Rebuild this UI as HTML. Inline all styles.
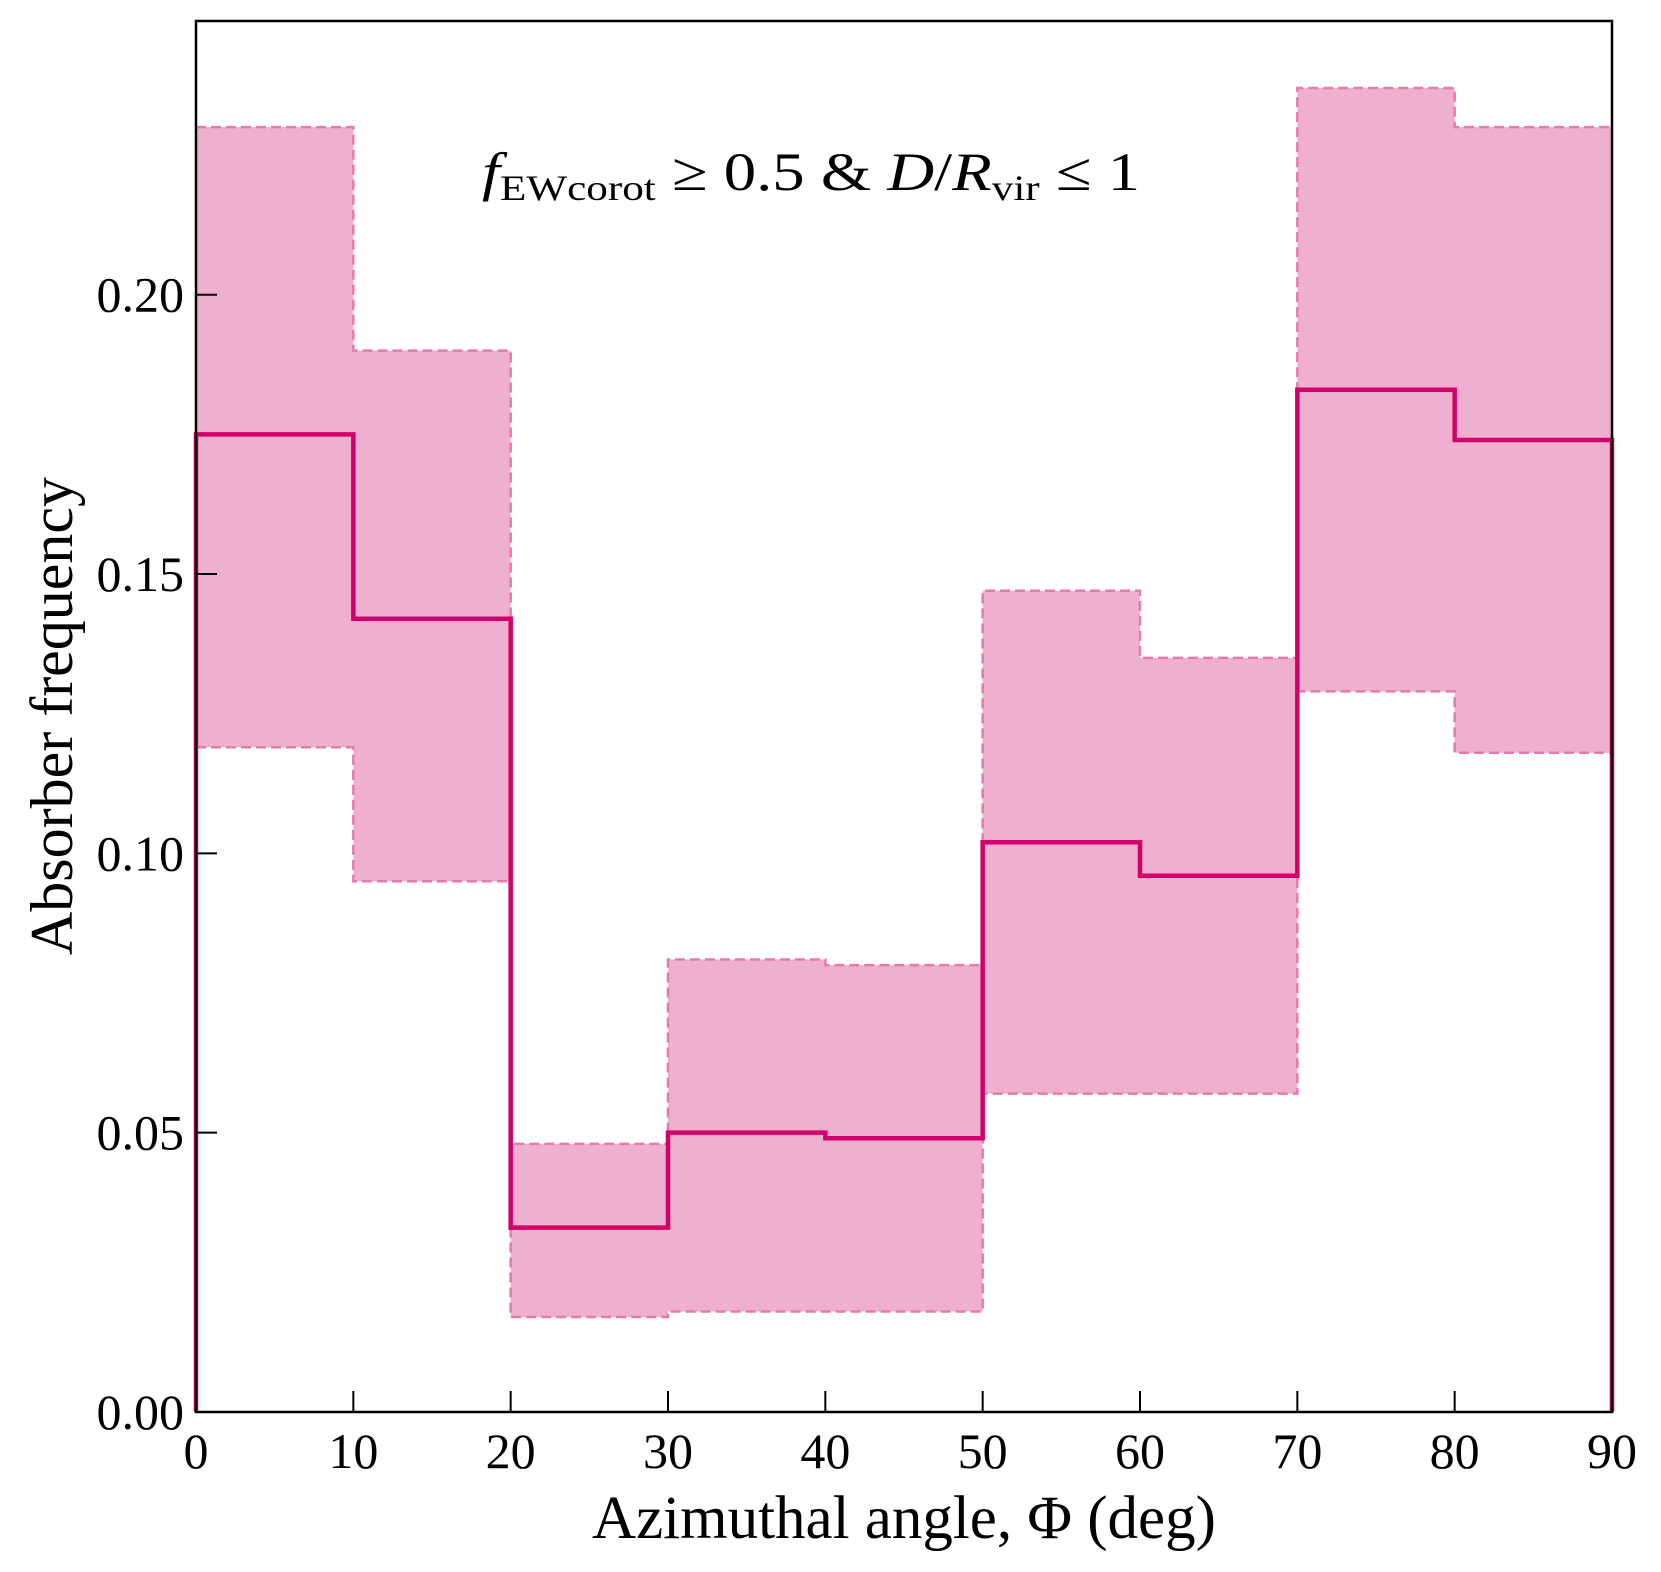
<!DOCTYPE html>
<html><head><meta charset="utf-8"><style>
html,body{margin:0;padding:0;background:#fff;}
svg{display:block;}
text{font-family:"Liberation Serif",serif;fill:#000;}
</style></head><body>
<svg id="chart" width="1661" height="1572" viewBox="0 0 1661 1572" xmlns="http://www.w3.org/2000/svg">
<g id="fills"></g>
<g id="bounds"></g>
<g id="mainline"></g>
<rect x="196" y="21" width="1416" height="1391" fill="none" stroke="#000" stroke-width="2.5"/>
<g id="xticks"></g>
<g id="yticks"></g>
<text x="904" y="1538" font-size="61" text-anchor="middle">Azimuthal angle, Φ (deg)</text>
<text transform="translate(72,716) rotate(-90)" font-size="60" text-anchor="middle">Absorber frequency</text>
<text x="482" y="190" font-size="54" textLength="658" lengthAdjust="spacingAndGlyphs"><tspan font-style="italic">f</tspan><tspan font-size="36" dy="10">EWcorot</tspan><tspan dy="-10"> ≥ 0.5 &amp; </tspan><tspan font-style="italic">D</tspan><tspan>/</tspan><tspan font-style="italic">R</tspan><tspan font-size="36" dy="10">vir</tspan><tspan dy="-10"> ≤ 1</tspan></text>
</svg>
<script>
const binEdges = [0,10,20,30,40,50,60,70,80,90];
const freq  = [0.175,0.142,0.033,0.050,0.049,0.102,0.096,0.183,0.174];
const upper = [0.230,0.190,0.048,0.081,0.080,0.147,0.135,0.237,0.230];
const lower = [0.119,0.095,0.017,0.018,0.018,0.057,0.057,0.129,0.118];
const xTicks = [0,10,20,30,40,50,60,70,80,90];
const yTicks = [0.00,0.05,0.10,0.15,0.20];
const X0=196,X1=1612,Y0=1412,Y1=21,XMAX=90,YMAX=0.249;
const sx=v=>X0+(v/XMAX)*(X1-X0);
const sy=v=>Y0-(v/YMAX)*(Y0-Y1);
const NS="http://www.w3.org/2000/svg";
function mk(tag,parent){const e=document.createElementNS(NS,tag);document.getElementById(parent).appendChild(e);return e;}
function stepPath(arr){let d="";for(let i=0;i<arr.length;i++){d+=(i?"L":"M")+sx(binEdges[i])+","+sy(arr[i])+"L"+sx(binEdges[i+1])+","+sy(arr[i]);}return d;}
// single fill path to avoid seams
let fd=stepPath(upper);
for(let i=lower.length-1;i>=0;i--){fd+="L"+sx(binEdges[i+1])+","+sy(lower[i])+"L"+sx(binEdges[i])+","+sy(lower[i]);}
fd+="Z";
const fp=mk("path","fills");


fp.setAttribute("d",fd);fp.setAttribute("fill","#efb0cf");
[upper,lower].forEach((a,k)=>{
  const p=mk("path","bounds");
  
  
  p.setAttribute("d",stepPath(a));p.setAttribute("fill","none");p.setAttribute("stroke","#e57aae");
  p.setAttribute("stroke-width","2.5");p.setAttribute("stroke-dasharray","10,5");
});
const m=mk("path","mainline");


m.setAttribute("d","M"+sx(0)+","+sy(0)+"L"+stepPath(freq).slice(1)+"L"+sx(90)+","+sy(0));
m.setAttribute("fill","none");m.setAttribute("stroke","#d1006b");m.setAttribute("stroke-width","4.5");
xTicks.forEach(v=>{
  const t=mk("line","xticks");
  
  
  t.setAttribute("x1",sx(v));t.setAttribute("x2",sx(v));t.setAttribute("y1",Y0);t.setAttribute("y2",Y0-21);
  t.setAttribute("stroke","#000");t.setAttribute("stroke-width","2");
  const s=mk("text","xticks");
  
  
  s.setAttribute("x",sx(v));s.setAttribute("y",Y0+56);s.setAttribute("font-size","50");s.setAttribute("text-anchor","middle");
  s.textContent=v;
});
yTicks.forEach(v=>{
  const t=mk("line","yticks");
  
  
  t.setAttribute("x1",X0);t.setAttribute("x2",X0+21);t.setAttribute("y1",sy(v));t.setAttribute("y2",sy(v));
  t.setAttribute("stroke","#000");t.setAttribute("stroke-width","2");
  const s=mk("text","yticks");
  
  
  s.setAttribute("x",X0-12);s.setAttribute("y",sy(v)+17);s.setAttribute("font-size","50");s.setAttribute("text-anchor","end");
  s.textContent=v.toFixed(2);
});
</script>
</body></html>
